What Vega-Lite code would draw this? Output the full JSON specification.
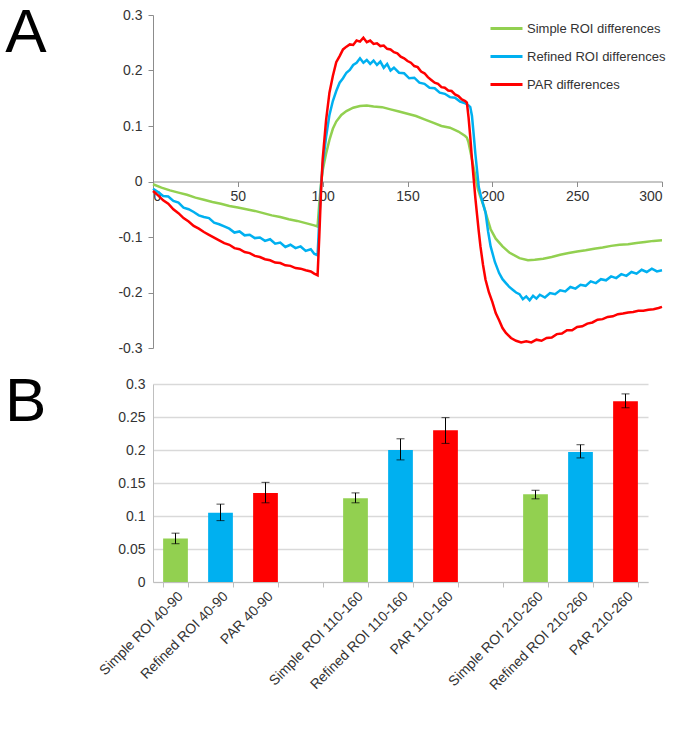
{
  "$schema": "https://vega.github.io/schema/vega-lite/v6.json",
  "background": "white",
  "padding": {"left": 5, "top": 2, "right": 5, "bottom": 5},
  "spacing": 16,
  "resolve": {"scale": {"color": "independent"}, "legend": {"color": "independent"}},
  "config": {"view": {"stroke": null}, "axis": {"labelFontSize": 14, "labelColor": "#333333", "domainColor": "#8c8c8c", "tickColor": "#8c8c8c"}},
  "vconcat": [
    {
      "width": 509,
      "height": 333,
      "title": {"text": "A", "orient": "left", "angle": 0, "anchor": "end", "frame": "group", "align": "right", "baseline": "alphabetic", "dy": 37, "offset": 30, "fontSize": 62, "fontWeight": "normal", "color": "#000000"},
      "encoding": {
        "x": {"field": "x", "type": "quantitative", "scale": {"domain": [0, 300]},
              "axis": {"title": null, "values": [0, 50, 100, 150, 200, 250, 300], "grid": false, "offset": -166.5, "tickSize": 5, "labelPadding": 3}},
        "y": {"field": "v", "type": "quantitative", "scale": {"domain": [-0.3, 0.3]},
              "axis": {"title": null, "values": [-0.3, -0.2, -0.1, 0, 0.1, 0.2, 0.3], "grid": false, "tickSize": 5, "labelPadding": 6, "labelExpr": "isNumber(datum.value) ? toString(datum.value) : datum.label"}}
      },
      "layer": [
        {
          "data": {"values": [
            {"x":0,"v":-0.005},{"x":5,"v":-0.011},{"x":10,"v":-0.016},{"x":15,"v":-0.02},{"x":20,"v":-0.024},{"x":25,"v":-0.029},{"x":30,"v":-0.033},{"x":35,"v":-0.037},{"x":40,"v":-0.04},{"x":45,"v":-0.044},{"x":50,"v":-0.047},{"x":55,"v":-0.05},{"x":60,"v":-0.053},{"x":65,"v":-0.057},{"x":70,"v":-0.061},{"x":75,"v":-0.064},{"x":80,"v":-0.068},{"x":85,"v":-0.071},{"x":90,"v":-0.075},{"x":95,"v":-0.079},{"x":97,"v":-0.081},{"x":98,"v":-0.04},{"x":99,"v":-0.005},{"x":100,"v":0.02},{"x":101,"v":0.035},{"x":102,"v":0.05},{"x":104,"v":0.075},{"x":106,"v":0.095},{"x":108,"v":0.108},{"x":111,"v":0.12},{"x":114,"v":0.127},{"x":118,"v":0.133},{"x":122,"v":0.136},{"x":126,"v":0.137},{"x":130,"v":0.135},{"x":135,"v":0.134},{"x":140,"v":0.13},{"x":145,"v":0.126},{"x":150,"v":0.122},{"x":155,"v":0.118},{"x":160,"v":0.112},{"x":165,"v":0.106},{"x":170,"v":0.1},{"x":175,"v":0.097},{"x":180,"v":0.09},{"x":184,"v":0.082},{"x":185,"v":0.079},{"x":186,"v":0.07},{"x":187,"v":0.055},{"x":188,"v":0.04},{"x":189,"v":0.025},{"x":190,"v":0.01},{"x":191.5,"v":-0.014},{"x":193,"v":-0.028},{"x":195,"v":-0.045},{"x":197,"v":-0.066},{"x":199,"v":-0.086},{"x":202,"v":-0.103},{"x":206,"v":-0.117},{"x":210,"v":-0.128},{"x":216,"v":-0.138},{"x":221,"v":-0.142},{"x":225,"v":-0.141},{"x":230,"v":-0.139},{"x":235,"v":-0.136},{"x":240,"v":-0.132},{"x":245,"v":-0.129},{"x":250,"v":-0.126},{"x":255,"v":-0.124},{"x":260,"v":-0.121},{"x":265,"v":-0.119},{"x":270,"v":-0.116},{"x":275,"v":-0.114},{"x":280,"v":-0.113},{"x":285,"v":-0.111},{"x":290,"v":-0.109},{"x":295,"v":-0.107},{"x":300,"v":-0.106}
          ]},
          "mark": {"type": "line", "strokeWidth": 2.5},
          "encoding": {"color": {"datum": "Simple ROI differences"}}
        },
        {
          "data": {"values": [
            {"x":0,"v":-0.013},{"x":3,"v":-0.019},{"x":6,"v":-0.026},{"x":9,"v":-0.027},{"x":12,"v":-0.035},{"x":15,"v":-0.038},{"x":18,"v":-0.047},{"x":21,"v":-0.05},{"x":24,"v":-0.055},{"x":27,"v":-0.061},{"x":30,"v":-0.064},{"x":33,"v":-0.066},{"x":36,"v":-0.074},{"x":39,"v":-0.077},{"x":42,"v":-0.081},{"x":45,"v":-0.085},{"x":48,"v":-0.092},{"x":51,"v":-0.09},{"x":54,"v":-0.097},{"x":57,"v":-0.096},{"x":60,"v":-0.102},{"x":63,"v":-0.101},{"x":66,"v":-0.107},{"x":69,"v":-0.104},{"x":72,"v":-0.112},{"x":75,"v":-0.11},{"x":78,"v":-0.118},{"x":81,"v":-0.114},{"x":84,"v":-0.12},{"x":87,"v":-0.117},{"x":90,"v":-0.125},{"x":93,"v":-0.122},{"x":95,"v":-0.13},{"x":97,"v":-0.133},
            {"x":98,"v":-0.07},{"x":99,"v":-0.01},{"x":100,"v":0.03},{"x":102,"v":0.08},{"x":104,"v":0.12},{"x":106,"v":0.145},{"x":108,"v":0.163},{"x":110,"v":0.178},{"x":112,"v":0.186},{"x":114,"v":0.196},{"x":116,"v":0.201},{"x":118,"v":0.21},{"x":120,"v":0.214},{"x":122,"v":0.222},{"x":124,"v":0.214},{"x":126,"v":0.219},{"x":128,"v":0.212},{"x":130,"v":0.218},{"x":132,"v":0.21},{"x":134,"v":0.216},{"x":136,"v":0.205},{"x":138,"v":0.212},{"x":140,"v":0.2},{"x":142,"v":0.205},{"x":145,"v":0.196},{"x":148,"v":0.195},{"x":151,"v":0.186},{"x":154,"v":0.187},{"x":157,"v":0.178},{"x":160,"v":0.176},{"x":163,"v":0.169},{"x":166,"v":0.168},{"x":169,"v":0.16},{"x":172,"v":0.158},{"x":175,"v":0.152},{"x":178,"v":0.151},{"x":181,"v":0.144},{"x":184,"v":0.141},{"x":186,"v":0.137},{"x":187,"v":0.134},{"x":188,"v":0.118},{"x":189,"v":0.085},{"x":190,"v":0.05},{"x":191,"v":0.02},{"x":192,"v":-0.01},{"x":194,"v":-0.035},{"x":196,"v":-0.056},{"x":197.5,"v":-0.09},{"x":199,"v":-0.117},{"x":201.5,"v":-0.145},{"x":204,"v":-0.165},{"x":206,"v":-0.176},{"x":208,"v":-0.183},{"x":210,"v":-0.19},{"x":212,"v":-0.195},{"x":214,"v":-0.2},{"x":216,"v":-0.203},{"x":218,"v":-0.212},{"x":220,"v":-0.207},{"x":222,"v":-0.214},{"x":224,"v":-0.206},{"x":226,"v":-0.211},{"x":228,"v":-0.204},{"x":231,"v":-0.209},{"x":234,"v":-0.201},{"x":237,"v":-0.203},{"x":240,"v":-0.196},{"x":243,"v":-0.198},{"x":246,"v":-0.19},{"x":249,"v":-0.193},{"x":252,"v":-0.186},{"x":255,"v":-0.188},{"x":258,"v":-0.18},{"x":261,"v":-0.183},{"x":264,"v":-0.176},{"x":267,"v":-0.178},{"x":270,"v":-0.171},{"x":273,"v":-0.174},{"x":276,"v":-0.167},{"x":279,"v":-0.17},{"x":282,"v":-0.163},{"x":285,"v":-0.166},{"x":288,"v":-0.159},{"x":291,"v":-0.163},{"x":294,"v":-0.157},{"x":297,"v":-0.162},{"x":300,"v":-0.16}
          ]},
          "mark": {"type": "line", "strokeWidth": 2.5},
          "encoding": {"color": {"datum": "Refined ROI differences"}}
        },
        {
          "data": {"values": [
            {"x":0,"v":-0.017},{"x":3,"v":-0.025},{"x":6,"v":-0.034},{"x":9,"v":-0.04},{"x":12,"v":-0.05},{"x":15,"v":-0.057},{"x":18,"v":-0.066},{"x":21,"v":-0.072},{"x":24,"v":-0.08},{"x":27,"v":-0.085},{"x":30,"v":-0.091},{"x":33,"v":-0.096},{"x":36,"v":-0.101},{"x":39,"v":-0.106},{"x":42,"v":-0.111},{"x":45,"v":-0.114},{"x":48,"v":-0.12},{"x":51,"v":-0.122},{"x":54,"v":-0.127},{"x":57,"v":-0.129},{"x":60,"v":-0.134},{"x":63,"v":-0.136},{"x":66,"v":-0.14},{"x":69,"v":-0.142},{"x":72,"v":-0.146},{"x":75,"v":-0.147},{"x":78,"v":-0.151},{"x":81,"v":-0.152},{"x":84,"v":-0.156},{"x":87,"v":-0.157},{"x":90,"v":-0.16},{"x":93,"v":-0.162},{"x":95,"v":-0.166},{"x":97,"v":-0.169},
            {"x":98,"v":-0.1},{"x":99,"v":-0.02},{"x":100,"v":0.04},{"x":102,"v":0.11},{"x":104,"v":0.16},{"x":106,"v":0.19},{"x":108,"v":0.215},{"x":110,"v":0.226},{"x":112,"v":0.238},{"x":114,"v":0.243},{"x":116,"v":0.247},{"x":118,"v":0.246},{"x":120,"v":0.254},{"x":122,"v":0.252},{"x":124,"v":0.259},{"x":126,"v":0.251},{"x":128,"v":0.254},{"x":130,"v":0.248},{"x":132,"v":0.249},{"x":134,"v":0.244},{"x":136,"v":0.245},{"x":138,"v":0.239},{"x":140,"v":0.238},{"x":142,"v":0.233},{"x":144,"v":0.231},{"x":146,"v":0.225},{"x":148,"v":0.222},{"x":150,"v":0.217},{"x":152,"v":0.214},{"x":154,"v":0.208},{"x":156,"v":0.206},{"x":158,"v":0.198},{"x":160,"v":0.195},{"x":162,"v":0.188},{"x":164,"v":0.183},{"x":166,"v":0.178},{"x":168,"v":0.176},{"x":170,"v":0.17},{"x":172,"v":0.169},{"x":174,"v":0.164},{"x":176,"v":0.163},{"x":178,"v":0.157},{"x":180,"v":0.154},{"x":182,"v":0.148},{"x":184,"v":0.145},{"x":185,"v":0.142},{"x":186,"v":0.115},{"x":187,"v":0.08},{"x":188,"v":0.04},{"x":189,"v":0.005},{"x":190,"v":-0.03},{"x":191,"v":-0.06},{"x":192,"v":-0.09},{"x":193,"v":-0.117},{"x":194.5,"v":-0.15},{"x":196,"v":-0.177},{"x":198,"v":-0.2},{"x":200,"v":-0.217},{"x":202,"v":-0.237},{"x":204,"v":-0.25},{"x":206,"v":-0.264},{"x":208,"v":-0.273},{"x":211,"v":-0.282},{"x":214,"v":-0.287},{"x":217,"v":-0.29},{"x":220,"v":-0.288},{"x":223,"v":-0.29},{"x":226,"v":-0.285},{"x":229,"v":-0.287},{"x":232,"v":-0.282},{"x":235,"v":-0.281},{"x":238,"v":-0.275},{"x":241,"v":-0.274},{"x":244,"v":-0.268},{"x":247,"v":-0.268},{"x":250,"v":-0.262},{"x":253,"v":-0.261},{"x":256,"v":-0.256},{"x":259,"v":-0.254},{"x":262,"v":-0.249},{"x":265,"v":-0.248},{"x":268,"v":-0.244},{"x":271,"v":-0.243},{"x":274,"v":-0.239},{"x":277,"v":-0.238},{"x":280,"v":-0.236},{"x":283,"v":-0.235},{"x":286,"v":-0.233},{"x":289,"v":-0.233},{"x":292,"v":-0.231},{"x":295,"v":-0.23},{"x":298,"v":-0.228},{"x":300,"v":-0.226}
          ]},
          "mark": {"type": "line", "strokeWidth": 2.5},
          "encoding": {
            "color": {"datum": "PAR differences",
              "scale": {"domain": ["Simple ROI differences", "Refined ROI differences", "PAR differences"], "range": ["#92D050", "#00B0F0", "#FF0000"]},
              "legend": {"title": null, "orient": "top-right", "offset": -4, "padding": 0, "symbolType": "stroke", "symbolSize": 1024, "symbolStrokeWidth": 3, "labelFontSize": 13, "labelColor": "#333333", "labelOffset": 3, "rowPadding": 3, "labelLimit": 300}}
          }
        }
      ]
    },
    {
      "width": 495,
      "height": 198,
      "title": {"text": "B", "orient": "left", "angle": 0, "anchor": "end", "frame": "group", "align": "right", "baseline": "alphabetic", "dy": 37, "offset": 9, "fontSize": 62, "fontWeight": "normal", "color": "#000000"},
      "data": {"values": [
        {"cat": "Simple ROI 40-90", "grp": "Simple", "v": 0.066, "lo": 0.058, "hi": 0.074},
        {"cat": "Refined ROI 40-90", "grp": "Refined", "v": 0.105, "lo": 0.093, "hi": 0.118},
        {"cat": "PAR 40-90", "grp": "PAR", "v": 0.135, "lo": 0.12, "hi": 0.151},
        {"cat": "Simple ROI 110-160", "grp": "Simple", "v": 0.127, "lo": 0.12, "hi": 0.135},
        {"cat": "Refined ROI  110-160", "grp": "Refined", "v": 0.2, "lo": 0.185, "hi": 0.217},
        {"cat": "PAR 110-160", "grp": "PAR", "v": 0.23, "lo": 0.21, "hi": 0.249},
        {"cat": "Simple ROI 210-260", "grp": "Simple", "v": 0.133, "lo": 0.126, "hi": 0.139},
        {"cat": "Refined ROI 210-260", "grp": "Refined", "v": 0.197, "lo": 0.188, "hi": 0.208},
        {"cat": "PAR 210-260", "grp": "PAR", "v": 0.274, "lo": 0.264, "hi": 0.285}
      ]},
      "encoding": {
        "x": {"field": "cat", "type": "nominal",
              "scale": {"domain": ["Simple ROI 40-90", "Refined ROI 40-90", "PAR 40-90", "gap1", "Simple ROI 110-160", "Refined ROI  110-160", "PAR 110-160", "gap2", "Simple ROI 210-260", "Refined ROI 210-260", "PAR 210-260"], "paddingInner": 0.45, "paddingOuter": 0.225},
              "axis": {"title": null, "labelAngle": -45, "tickBand": "extent", "tickSize": 5, "labelPadding": 2, "labelExpr": "isString(datum.value) && indexof(datum.value, 'gap') == 0 ? '' : datum.label", "domainColor": "#bfbfbf", "tickColor": "#bfbfbf"}}
      },
      "layer": [
        {
          "mark": {"type": "bar"},
          "encoding": {
            "y": {"field": "v", "type": "quantitative", "scale": {"domain": [0, 0.3]},
                  "axis": {"title": null, "values": [0, 0.05, 0.1, 0.15, 0.2, 0.25, 0.3], "labelExpr": "isNumber(datum.value) ? toString(datum.value) : datum.label", "grid": true, "gridColor": "#d9d9d9", "gridWidth": 1.5, "tickSize": 0, "labelPadding": 8, "domainColor": "#bfbfbf"}},
            "color": {"field": "grp", "type": "nominal", "scale": {"domain": ["Simple", "Refined", "PAR"], "range": ["#92D050", "#00B0F0", "#FF0000"]}, "legend": null}
          }
        },
        {
          "mark": {"type": "rule", "color": "#000000", "strokeWidth": 1},
          "encoding": {
            "y": {"field": "lo", "type": "quantitative",
                  "axis": {"title": null, "values": [0, 0.05, 0.1, 0.15, 0.2, 0.25, 0.3], "labelExpr": "isNumber(datum.value) ? toString(datum.value) : datum.label", "grid": true, "gridColor": "#d9d9d9", "gridWidth": 1.5, "tickSize": 0, "labelPadding": 8, "domainColor": "#bfbfbf"}},
            "y2": {"field": "hi"}
          }
        },
        {
          "mark": {"type": "tick", "color": "#000000", "thickness": 1, "size": 8},
          "encoding": {"y": {"field": "lo", "type": "quantitative",
                  "axis": {"title": null, "values": [0, 0.05, 0.1, 0.15, 0.2, 0.25, 0.3], "labelExpr": "isNumber(datum.value) ? toString(datum.value) : datum.label", "grid": true, "gridColor": "#d9d9d9", "gridWidth": 1.5, "tickSize": 0, "labelPadding": 8, "domainColor": "#bfbfbf"}}}
        },
        {
          "mark": {"type": "tick", "color": "#000000", "thickness": 1, "size": 8},
          "encoding": {"y": {"field": "hi", "type": "quantitative",
                  "axis": {"title": null, "values": [0, 0.05, 0.1, 0.15, 0.2, 0.25, 0.3], "labelExpr": "isNumber(datum.value) ? toString(datum.value) : datum.label", "grid": true, "gridColor": "#d9d9d9", "gridWidth": 1.5, "tickSize": 0, "labelPadding": 8, "domainColor": "#bfbfbf"}}}
        }
      ]
    }
  ]
}
